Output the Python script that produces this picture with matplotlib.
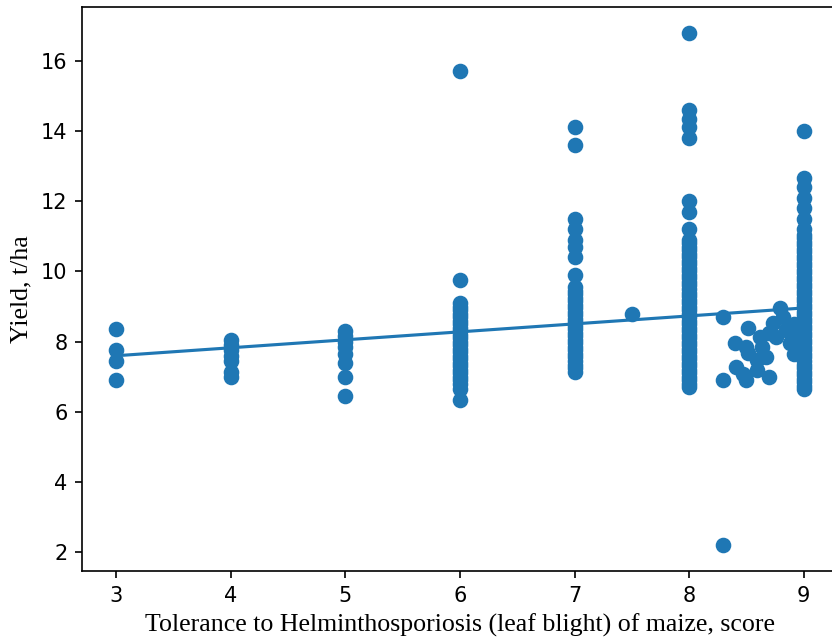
import matplotlib
matplotlib.use("Agg")
import matplotlib.pyplot as plt

# Tolerance score (x) and yield in t/ha (y)
yield_3 = [8.35, 7.75, 7.45, 6.9]
yield_4 = [8.05, 7.9, 7.75, 7.6, 7.45, 7.15, 7.0]
yield_5 = [8.3, 8.15, 8.0, 7.85, 7.65, 7.4, 7.0, 6.45]
yield_6 = [15.7, 9.75, 9.1, 9.0, 8.9, 8.8, 8.7, 8.6, 8.5, 8.4, 8.3, 8.2, 8.1,
           8.0, 7.9, 7.8, 7.7, 7.6, 7.5, 7.4, 7.3, 7.2, 7.1, 7.0, 6.9, 6.8,
           6.65, 6.35]
yield_7 = [14.1, 13.6, 11.5, 11.2, 10.9, 10.7, 10.4, 9.9, 9.55, 9.45, 9.35,
           9.25, 9.15, 9.05, 8.95, 8.85, 8.75, 8.65, 8.55, 8.45, 8.35, 8.25,
           8.15, 8.05, 7.95, 7.85, 7.75, 7.65, 7.55, 7.45, 7.35, 7.25, 7.15]
yield_7_5 = [8.8]
yield_8 = [16.8, 14.6, 14.35, 14.1, 13.8, 12.0, 11.7, 11.2, 10.9, 10.8,
           10.7, 10.6, 10.5, 10.4, 10.3, 10.2, 10.1, 10.0, 9.9, 9.8, 9.7,
           9.6, 9.5, 9.4, 9.3, 9.2, 9.1, 9.0, 8.9, 8.8, 8.7, 8.6, 8.5, 8.4,
           8.3, 8.2, 8.1, 8.0, 7.9, 7.8, 7.7, 7.6, 7.5, 7.4, 7.3, 7.2, 7.1,
           7.0, 6.9, 6.8, 6.7]
yield_9 = [14.0, 12.65, 12.4, 12.1, 11.8, 11.5, 11.2, 11.05, 10.95, 10.85,
           10.75, 10.65, 10.55, 10.45, 10.35, 10.25, 10.15, 10.05, 9.95,
           9.85, 9.75, 9.65, 9.55, 9.45, 9.35, 9.25, 9.15, 9.05, 8.95, 8.85,
           8.75, 8.65, 8.55, 8.45, 8.35, 8.25, 8.15, 8.05, 7.95, 7.85, 7.75,
           7.65, 7.55, 7.45, 7.35, 7.25, 7.15, 7.05, 6.95, 6.85, 6.75, 6.65]

# scattered scores between 8 and 9
mid_x = [8.3, 8.51, 8.4, 8.41, 8.3, 8.5, 8.7, 8.59, 8.51, 8.64, 8.73, 8.79,
         8.82, 8.76, 8.85, 8.88, 8.7, 8.62, 8.67, 8.5, 8.47, 8.59, 8.92,
         8.92, 8.92, 8.92, 8.3]
mid_y = [8.71, 8.38, 7.95, 7.28, 6.9, 6.9, 7.0, 7.47, 7.67, 7.85, 8.52, 8.95,
         8.71, 8.14, 8.33, 7.95, 8.24, 8.14, 7.57, 7.85, 7.09, 7.19, 8.5,
         8.2, 7.9, 7.65, 2.2]

# regression line ends
trend_x = [3, 9]
trend_y = [7.6, 8.96]

columns = [(3, yield_3), (4, yield_4), (5, yield_5), (6, yield_6),
           (7, yield_7), (7.5, yield_7_5), (8, yield_8), (9, yield_9)]

xs = []
ys = []
for score, vals in columns:
    xs.extend([score] * len(vals))
    ys.extend(vals)
xs.extend(mid_x)
ys.extend(mid_y)

fig = plt.figure(figsize=(832 / 150, 640 / 150), dpi=150)
# the original picture is cut off on the right, so the axes run past the edge
ax = fig.add_axes([82 / 832, 69 / 640, 756 / 832, 564 / 640])

ax.plot(trend_x, trend_y, color="#1f77b4", zorder=1)
ax.scatter(xs, ys, color="#1f77b4", s=42, zorder=2)

ax.set_xlabel("Tolerance to Helminthosporiosis (leaf blight) of maize, score",
              family="Liberation Serif", fontsize=12.4)
ax.set_ylabel("Yield, t/ha", family="Liberation Serif", fontsize=12.4)

fig.savefig("out.png", dpi=150)
